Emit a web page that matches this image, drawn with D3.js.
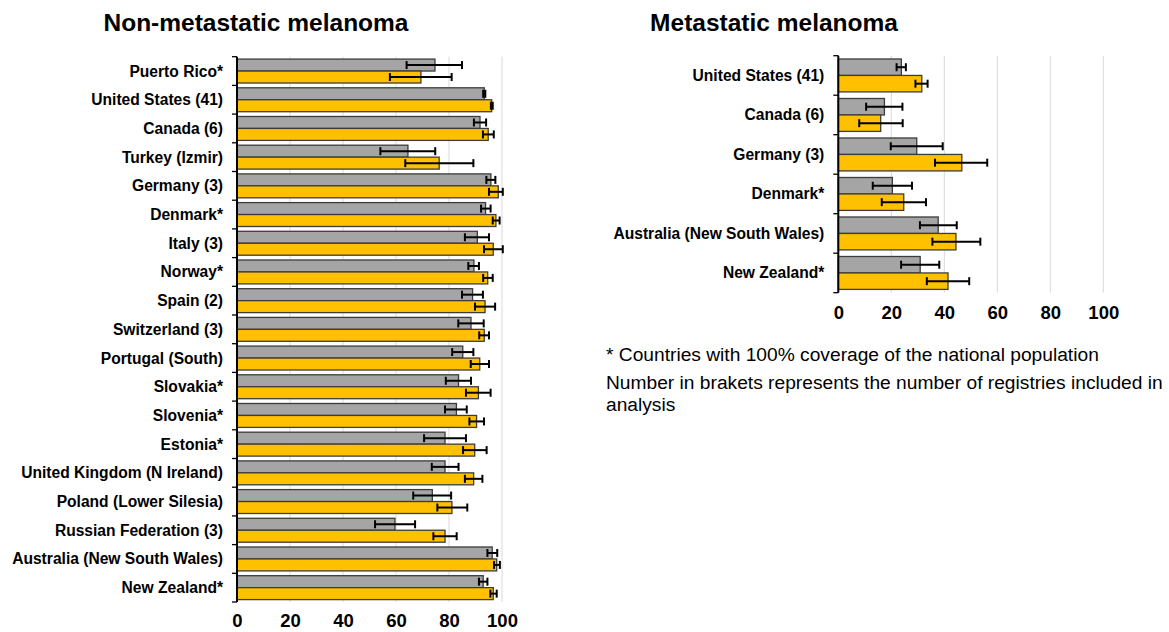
<!doctype html>
<html lang="en">
<head>
<meta charset="utf-8">
<script src="https://d3js.org/d3.v7.min.js"></script>
<title>Melanoma</title>
<style>
  body { margin: 0; background: #fff; }
  text { font-family: "Liberation Sans", Arial, sans-serif; }
</style>
</head>
<body>
<svg id="svg1" width="1169" height="632"></svg>
<script>
// ---- data ----
const nonMetCountries = ["Puerto Rico*", "United States (41)", "Canada (6)", "Turkey (Izmir)", "Germany (3)",
  "Denmark*", "Italy (3)", "Norway*", "Spain (2)", "Switzerland (3)", "Portugal (South)", "Slovakia*",
  "Slovenia*", "Estonia*", "United Kingdom (N Ireland)", "Poland (Lower Silesia)", "Russian Federation (3)",
  "Australia (New South Wales)", "New Zealand*"];
const nonMetGray     = [74.7, 93.3, 91.7, 64.5, 95.8, 93.8, 90.7, 89.4, 88.9, 88.3, 85.2, 83.6, 82.8, 78.5, 78.5, 73.7, 59.6, 96.3, 92.9];
const nonMetGrayLo   = [64.0, 92.9, 89.4, 54.1, 94.1, 92.1, 86.0, 87.3, 84.9, 83.5, 81.2, 78.8, 78.5, 70.6, 73.5, 66.5, 52.1, 94.5, 91.3];
const nonMetGrayHi   = [84.9, 93.7, 94.0, 74.8, 97.5, 95.7, 95.1, 91.3, 92.8, 93.1, 89.2, 88.3, 86.7, 86.4, 83.6, 80.8, 67.2, 98.2, 94.5];
const nonMetOrange   = [69.4, 96.1, 94.8, 76.3, 98.6, 97.7, 96.7, 94.6, 93.6, 93.3, 91.6, 91.1, 90.4, 89.7, 89.3, 81.1, 78.5, 98.0, 96.7];
const nonMetOrangeLo = [57.7, 95.8, 92.8, 63.5, 95.1, 96.5, 93.2, 92.9, 89.8, 91.4, 88.2, 86.4, 87.7, 85.3, 86.0, 75.6, 74.1, 97.0, 95.6];
const nonMetOrangeHi = [81.0, 96.5, 96.9, 89.2, 100.3, 99.1, 100.3, 96.5, 97.4, 95.1, 95.1, 95.7, 93.2, 94.2, 92.6, 86.9, 82.9, 99.2, 98.0];

const metCountries = ["United States (41)", "Canada (6)", "Germany (3)", "Denmark*", "Australia (New South Wales)", "New Zealand*"];
const metGray     = [23.8, 17.4, 29.6, 20.4, 37.7, 30.9];
const metGrayLo   = [22.0, 10.5, 19.8, 13.0, 30.8, 23.7];
const metGrayHi   = [25.5, 24.2, 39.4, 27.8, 44.7, 38.1];
const metOrange   = [31.5, 16.0, 46.6, 24.7, 44.4, 41.4];
const metOrangeLo = [29.1, 7.9, 36.5, 16.4, 35.5, 33.4];
const metOrangeHi = [33.7, 24.3, 56.2, 33.1, 53.6, 49.4];

const xTicks = [0, 20, 40, 60, 80, 100];
const footnotes = ["* Countries with 100% coverage of the national population",
  "Number in brakets represents the number of registries included in",
  "analysis"];

const colors = { gray: "#a5a5a5", orange: "#ffc000" };

let svg = d3.select("#svg1");

function drawPanel(opt) {
  let g = svg.append("g");

  let rows = opt.countries.map((c, i) => ({
    country: c,
    bars: [
      { key: "gray", v: opt.gray[i], lo: opt.grayLo[i], hi: opt.grayHi[i] },
      { key: "orange", v: opt.orange[i], lo: opt.orangeLo[i], hi: opt.orangeHi[i] }
    ]
  }));

  let x = d3.scaleLinear().domain([0, 100]).range([opt.left, opt.right]);
  let y = d3.scaleBand().domain(opt.countries).range([opt.top, opt.bottom]).padding(0);
  let ySub = d3.scaleBand().domain(["gray", "orange"]).range([0, y.bandwidth()])
    .paddingInner(0).paddingOuter(0.2);

  // title
  g.append("text")
    .attr("x", opt.titleX).attr("y", 31)
    .attr("text-anchor", "middle")
    .attr("font-size", "24.5px").attr("font-weight", "bold")
    .text(opt.title);

  // grid
  g.selectAll(".grid")
    .data(xTicks.filter(d => d > 0))
    .join("line")
    .attr("x1", d => x(d)).attr("x2", d => x(d))
    .attr("y1", opt.top).attr("y2", opt.bottom)
    .attr("stroke", "#d9d9d9").attr("stroke-width", 1);

  // bars
  let rowG = g.selectAll(".row")
    .data(rows)
    .join("g")
    .attr("transform", d => `translate(0, ${y(d.country)})`);

  rowG.selectAll("rect")
    .data(d => d.bars)
    .join("rect")
    .attr("x", x(0))
    .attr("y", d => ySub(d.key))
    .attr("width", d => x(d.v) - x(0))
    .attr("height", ySub.bandwidth())
    .attr("fill", d => colors[d.key])
    .attr("stroke", "#3c3c3c").attr("stroke-width", 1.3);

  // error bars
  let err = rowG.selectAll(".err")
    .data(d => d.bars)
    .join("g")
    .attr("stroke", "#000").attr("stroke-width", 2)
    .attr("transform", d => `translate(0, ${ySub(d.key) + ySub.bandwidth() / 2})`);
  err.append("line")
    .attr("x1", d => x(d.lo)).attr("x2", d => x(d.hi))
    .attr("y1", 0).attr("y2", 0);
  err.append("line")
    .attr("x1", d => x(d.lo)).attr("x2", d => x(d.lo))
    .attr("y1", -4).attr("y2", 4);
  err.append("line")
    .attr("x1", d => x(d.hi)).attr("x2", d => x(d.hi))
    .attr("y1", -4).attr("y2", 4);

  // y axis: line plus ticks at band edges
  let edges = opt.countries.map(c => y(c)).concat([opt.bottom]);
  g.selectAll(".ytick")
    .data(edges)
    .join("line")
    .attr("x1", x(0) - 5).attr("x2", x(0))
    .attr("y1", d => d).attr("y2", d => d)
    .attr("stroke", "#000").attr("stroke-width", 1.3);
  g.append("line")
    .attr("x1", x(0)).attr("x2", x(0))
    .attr("y1", opt.top).attr("y2", opt.bottom)
    .attr("stroke", "#000").attr("stroke-width", 2);

  // category labels
  g.selectAll(".lab")
    .data(opt.countries)
    .join("text")
    .attr("x", x(0) - 14)
    .attr("y", d => y(d) + y.bandwidth() / 2)
    .attr("dy", "0.35em")
    .attr("text-anchor", "end")
    .attr("font-size", "15.6px").attr("font-weight", "bold")
    .text(d => d);

  // x axis labels
  let xAxis = g.append("g")
    .attr("transform", `translate(0, ${opt.bottom})`)
    .call(d3.axisBottom(x).tickValues(xTicks).tickSize(0).tickPadding(opt.tickPad));
  xAxis.select(".domain").remove();
  xAxis.selectAll(".tick text")
    .attr("font-family", "'Liberation Sans', Arial, sans-serif")
    .attr("font-size", "18.5px").attr("font-weight", "bold")
    .attr("fill", "#000");
}

drawPanel({
  title: "Non-metastatic melanoma", titleX: 256,
  countries: nonMetCountries,
  gray: nonMetGray, grayLo: nonMetGrayLo, grayHi: nonMetGrayHi,
  orange: nonMetOrange, orangeLo: nonMetOrangeLo, orangeHi: nonMetOrangeHi,
  left: 237, right: 502, top: 56.7, bottom: 602, tickPad: 12
});

drawPanel({
  title: "Metastatic melanoma", titleX: 774,
  countries: metCountries,
  gray: metGray, grayLo: metGrayLo, grayHi: metGrayHi,
  orange: metOrange, orangeLo: metOrangeLo, orangeHi: metOrangeHi,
  left: 838.3, right: 1103.3, top: 55.7, bottom: 292.7, tickPad: 13
});

// footnote
svg.selectAll(".note")
  .data(footnotes)
  .join("text")
  .attr("x", 606)
  .attr("y", (d, i) => [361, 388.5, 410.5][i])
  .attr("font-size", "19.2px")
  .text(d => d);
</script>
</body>
</html>
